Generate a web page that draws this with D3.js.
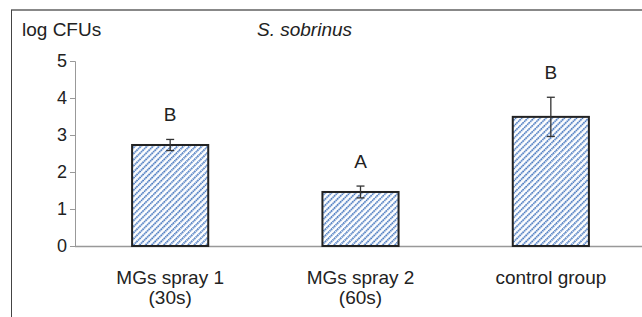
<!DOCTYPE html>
<html><head><meta charset="utf-8">
<script src="https://cdn.jsdelivr.net/npm/d3@7"></script>
<style>html,body{margin:0;padding:0;background:#fff;}svg{display:block;font-family:"Liberation Sans",Arial,sans-serif;}</style>
</head><body>
<svg id="c" width="642" height="317"></svg>
<script>
const categories = [["MGs spray 1","(30s)"],["MGs spray 2","(60s)"],["control group"]];
const values = [2.73, 1.46, 3.49];
const errors = [0.15, 0.16, 0.53];
const letters = ["B","A","B"];
const yTicks = [0,1,2,3,4,5];

const svg = d3.select("#c");
const defs = svg.append("defs");
const pat = defs.append("pattern").attr("id","hatch").attr("patternUnits","userSpaceOnUse")
  .attr("width",4.3).attr("height",4.3).attr("patternTransform","rotate(45)");
pat.append("rect").attr("width",4.3).attr("height",4.3).attr("fill","#fff");
pat.append("line").attr("x1",1).attr("y1",0).attr("x2",1).attr("y2",4.3)
  .attr("stroke","#4274bd").attr("stroke-width",1.8).attr("stroke-dasharray","1.4,0.75");

// frame
svg.append("line").attr("x1",11).attr("x2",642).attr("y1",10).attr("y2",10).attr("stroke","#888").attr("stroke-width",2);
svg.append("line").attr("x1",11.5).attr("x2",11.5).attr("y1",10).attr("y2",317).attr("stroke","#444").attr("stroke-width",1);

const x = d3.scaleBand().domain(d3.range(categories.length)).range([75,646]).paddingInner(0.6).paddingOuter(0.3);
const y = d3.scaleLinear().domain([0,5]).range([246,61]);

const yAxis = svg.append("g").attr("transform","translate(75,0)")
  .call(d3.axisLeft(y).tickValues(yTicks).tickSize(5).tickPadding(3).tickFormat(d3.format("d")));
yAxis.select(".domain").attr("stroke","#999").attr("d","M-5,61.5H0.5V246");
yAxis.selectAll(".tick line").attr("stroke","#999");
yAxis.selectAll("text").attr("font-size",18).attr("fill","#222").attr("font-family","Liberation Sans, Arial, sans-serif");

svg.append("line").attr("x1",75).attr("x2",642).attr("y1",y(0)+0.5).attr("y2",y(0)+0.5).attr("stroke","#999").attr("stroke-width",1.3);

const g = svg.append("g");
g.selectAll("rect.bar").data(values).join("rect").attr("class","bar")
  .attr("x",(d,i)=>x(i)).attr("width",x.bandwidth())
  .attr("y",d=>y(d)).attr("height",d=>y(0)-y(d))
  .attr("fill","url(#hatch)").attr("stroke","#222").attr("stroke-width",2);

values.forEach((v,i)=>{
  const cx = x(i)+x.bandwidth()/2;
  const e = errors[i];
  g.append("line").attr("x1",cx).attr("x2",cx).attr("y1",y(v+e)).attr("y2",y(v-e)).attr("stroke","#333").attr("stroke-width",1.3);
  [v+e,v-e].forEach(t=>g.append("line").attr("x1",cx-4).attr("x2",cx+4).attr("y1",y(t)).attr("y2",y(t)).attr("stroke","#333").attr("stroke-width",1.3));
  g.append("text").attr("x",cx).attr("y",y(v+e)-18).attr("text-anchor","middle")
    .attr("font-size",19).attr("fill","#222").text(letters[i]);
  const t = g.append("text").attr("text-anchor","middle").attr("font-size",19).attr("fill","#222");
  categories[i].forEach((s,k)=>t.append("tspan").attr("x",cx).attr("y",284+k*20).text(s));
});

svg.append("text").attr("x",22).attr("y",36).attr("font-size",19).attr("fill","#222").text("log CFUs");
svg.append("text").attr("x",257).attr("y",36).attr("font-size",19).attr("font-style","italic").attr("fill","#222").text("S. sobrinus");
</script>
</body></html>
